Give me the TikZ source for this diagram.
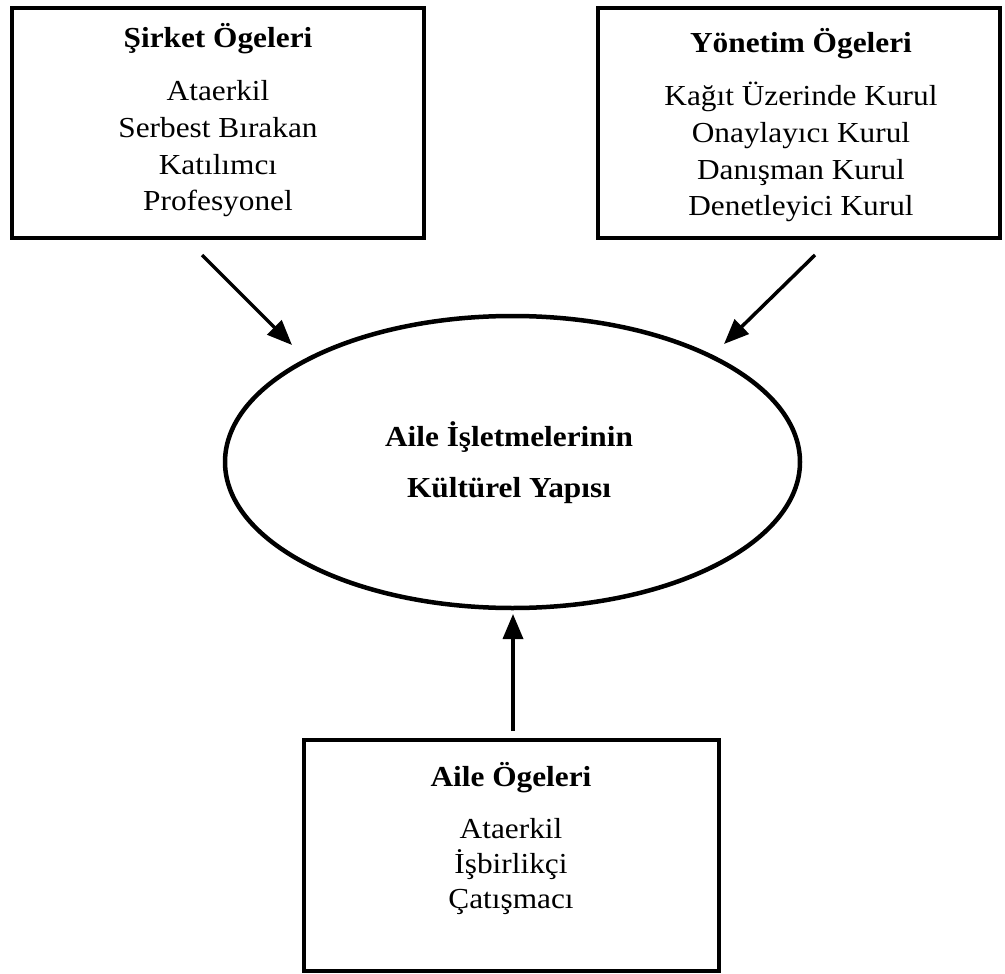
\documentclass[tikz,border=0pt]{standalone}
\usepackage{fontspec}
\setmainfont{Liberation Serif}[FakeStretch=1.08]
\usetikzlibrary{shapes.geometric,arrows.meta}

\begin{document}
\begin{tikzpicture}[x=1pt,y=-1pt,
  framebox/.style={draw, line width=4.5pt, rectangle, inner sep=0pt},
  centre/.style={draw, line width=4.5pt, ellipse, inner sep=0pt},
  heading/.style={anchor=base, inner sep=0pt, font=\fontsize{29}{35}\selectfont\bfseries},
  entry/.style={anchor=base, inner sep=0pt, font=\fontsize{29}{35}\selectfont},
  flow/.style={line width=3.5pt, -{Triangle[length=25pt,width=20pt]}}
]
\useasboundingbox (0,0) rectangle (1005,974);

% the three element groups
\node[framebox, minimum width=412pt, minimum height=230pt] (b1) at (218,123) {};
\node[framebox, minimum width=402pt, minimum height=230pt] (b2) at (799,123) {};
\node[framebox, minimum width=415pt, minimum height=231pt] (b3) at (511.5,855.5) {};

% central culture ellipse
\node[centre, minimum width=575pt, minimum height=292pt] (ell) at (512.5,462) {};

% texts of the company elements
\node[heading] (b1t) at (218,48) {Şirket Ögeleri};
\foreach \txt [count=\i] in {Ataerkil, Serbest Bırakan, Katılımcı, Profesyonel}
  \node[entry] (b1-\i) at (218,{101+36.5*(\i-1)}) {\txt};

% texts of the management elements
\node[heading] (b2t) at (801,53) {Yönetim Ögeleri};
\foreach \txt [count=\i] in {Kağıt Üzerinde Kurul, Onaylayıcı Kurul, Danışman Kurul, Denetleyici Kurul}
  \node[entry] (b2-\i) at (801,{106+36.5*(\i-1)}) {\txt};

% texts of the family elements
\node[heading] (b3t) at (511,786) {Aile Ögeleri};
\foreach \txt [count=\i] in {Ataerkil, İşbirlikçi, Çatışmacı}
  \node[entry] (b3-\i) at (511,{838+35*(\i-1)}) {\txt};

% texts inside the ellipse
\node[heading] (e1) at (509,446) {Aile İşletmelerinin};
\node[heading] (e2) at (509,497) {Kültürel Yapısı};

% arrow end points
\coordinate (a1s) at (202,255);
\coordinate (a1e) at (292,345);
\coordinate (a2s) at (815,255);
\coordinate (a2e) at (724,344);
\coordinate (a3s) at (513,731);
\coordinate (a3e) at (513,614);

\draw[flow] (a1s) -- (a1e);
\draw[flow] (a2s) -- (a2e);
\draw[flow] (a3s) -- (a3e);
\end{tikzpicture}
\end{document}
